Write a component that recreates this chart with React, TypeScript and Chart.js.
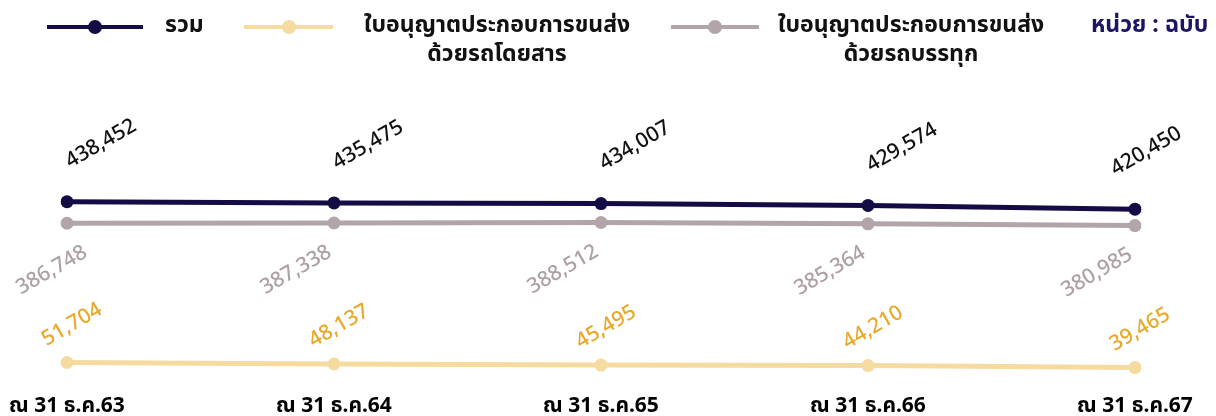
import React, { useEffect, useRef } from 'react';
import { Chart, registerables } from 'chart.js';
Chart.register(...registerables);

const categories = ['ณ 31 ธ.ค.63', 'ณ 31 ธ.ค.64', 'ณ 31 ธ.ค.65', 'ณ 31 ธ.ค.66', 'ณ 31 ธ.ค.67'];
const totalValues = [438452, 435475, 434007, 429574, 420450];
const busValues = [51704, 48137, 45495, 44210, 39465];
const truckValues = [386748, 387338, 388512, 385364, 380985];
const seriesTotal = 'รวม';
const seriesBus = ['ใบอนุญาตประกอบการขนส่ง', 'ด้วยรถโดยสาร'];
const seriesTruck = ['ใบอนุญาตประกอบการขนส่ง', 'ด้วยรถบรรทุก'];
const unitLabel = 'หน่วย : ฉบับ';

const FONT = "'Noto Sans', 'Noto Sans Thai', sans-serif";
const NAVY = '#140c44';
const YELLOW = '#f6dba0';
const GRAY = '#b1a5a9';

const labelStyles = [
  { color: '#111111', dx: 34, dy: -58 },
  { color: '#e8a92a', dx: 5, dy: -38 },
  { color: '#ada1a5', dx: -38, dy: 47 },
];

const ANG = Math.PI / 6;

const rotLabels = {
  id: 'rotLabels',
  afterDatasetsDraw(chart: any) {
    const ctx = chart.ctx;
    chart.data.datasets.forEach((ds: any, i: number) => {
      const meta = chart.getDatasetMeta(i);
      const st = labelStyles[i];
      ctx.save();
      ctx.font = `500 21px ${FONT}`;
      ctx.fillStyle = st.color;
      ctx.textAlign = 'center';
      ctx.textBaseline = 'middle';
      meta.data.forEach((pt: any, j: number) => {
        const text = Number(ds.data[j]).toLocaleString('en-US');
        const w = ctx.measureText(text).width;
        const half = (w / 2) * Math.cos(ANG) + 4;
        let cx = pt.x + st.dx;
        const cy = pt.y + st.dy;
        if (cx - half < 14) cx = 14 + half;
        if (cx + half > 1184) cx = 1184 - half;
        ctx.save();
        ctx.translate(cx, cy);
        ctx.rotate(-ANG);
        ctx.fillText(text, 0, 0);
        ctx.restore();
      });
      ctx.restore();
    });
  },
};

function LegendSymbol({ left, width, color }: { left: number; width: number; color: string }) {
  return (
    <div style={{ position: 'absolute', left, top: 0, width, height: 54 }}>
      <div style={{ position: 'absolute', left: 0, top: 25, width, height: 4, background: color }} />
      <div
        style={{
          position: 'absolute',
          left: width / 2 - 7,
          top: 20,
          width: 14,
          height: 14,
          borderRadius: '50%',
          background: color,
        }}
      />
    </div>
  );
}

const textStyle: React.CSSProperties = {
  position: 'absolute',
  top: 9,
  fontFamily: FONT,
  fontWeight: 700,
  fontSize: 23,
  lineHeight: '29px',
  color: '#111',
  whiteSpace: 'nowrap',
};

export default function App() {
  const ref = useRef<HTMLCanvasElement>(null);
  useEffect(() => {
    if (!ref.current) return;
    const chart = new Chart(ref.current, {
      type: 'line',
      data: {
        labels: categories,
        datasets: [
          {
            label: seriesTotal,
            data: totalValues,
            borderColor: NAVY,
            backgroundColor: NAVY,
            borderWidth: 5,
            pointRadius: 6.5,
            pointBorderWidth: 0,
            tension: 0,
          },
          {
            label: seriesBus.join(' '),
            data: busValues,
            borderColor: YELLOW,
            backgroundColor: YELLOW,
            borderWidth: 5,
            pointRadius: 6.5,
            pointBorderWidth: 0,
            tension: 0,
          },
          {
            label: seriesTruck.join(' '),
            data: truckValues,
            borderColor: GRAY,
            backgroundColor: GRAY,
            borderWidth: 5,
            pointRadius: 6.5,
            pointBorderWidth: 0,
            tension: 0,
          },
        ],
      },
      options: {
        animation: false,
        responsive: false,
        layout: { padding: { top: 93, left: 67, right: 81, bottom: 0 } },
        plugins: { legend: { display: false }, tooltip: { enabled: false } },
        scales: {
          y: { display: false, min: 0, max: 700000 },
          x: {
            grid: { display: false },
            border: { display: false },
            ticks: {
              color: '#000',
              padding: 1,
              maxRotation: 0,
              autoSkip: false,
              font: { family: FONT, size: 21, weight: 'bold' },
            },
            afterFit: (s: any) => {
              s.height = 46;
            },
          },
        },
      },
      plugins: [rotLabels],
    });
    return () => chart.destroy();
  }, []);

  return (
    <div style={{ position: 'absolute', left: 0, top: 0, width: 1216, height: 416, overflow: 'hidden', background: '#fff' }}>
      <canvas ref={ref} width={1216} height={430} style={{ position: 'absolute', left: 0, top: 0, display: 'block' }} />
      <LegendSymbol left={47} width={96} color={NAVY} />
      <div style={{ ...textStyle, left: 165 }}>{seriesTotal}</div>
      <LegendSymbol left={244} width={89} color={YELLOW} />
      <div style={{ ...textStyle, left: 497, transform: 'translateX(-50%)', textAlign: 'center' }}>
        {seriesBus[0]}
        <br />
        {seriesBus[1]}
      </div>
      <LegendSymbol left={671} width={88} color={GRAY} />
      <div style={{ ...textStyle, left: 911, transform: 'translateX(-50%)', textAlign: 'center' }}>
        {seriesTruck[0]}
        <br />
        {seriesTruck[1]}
      </div>
      <div style={{ ...textStyle, left: 1091, color: '#1c1464' }}>{unitLabel}</div>
    </div>
  );
}
